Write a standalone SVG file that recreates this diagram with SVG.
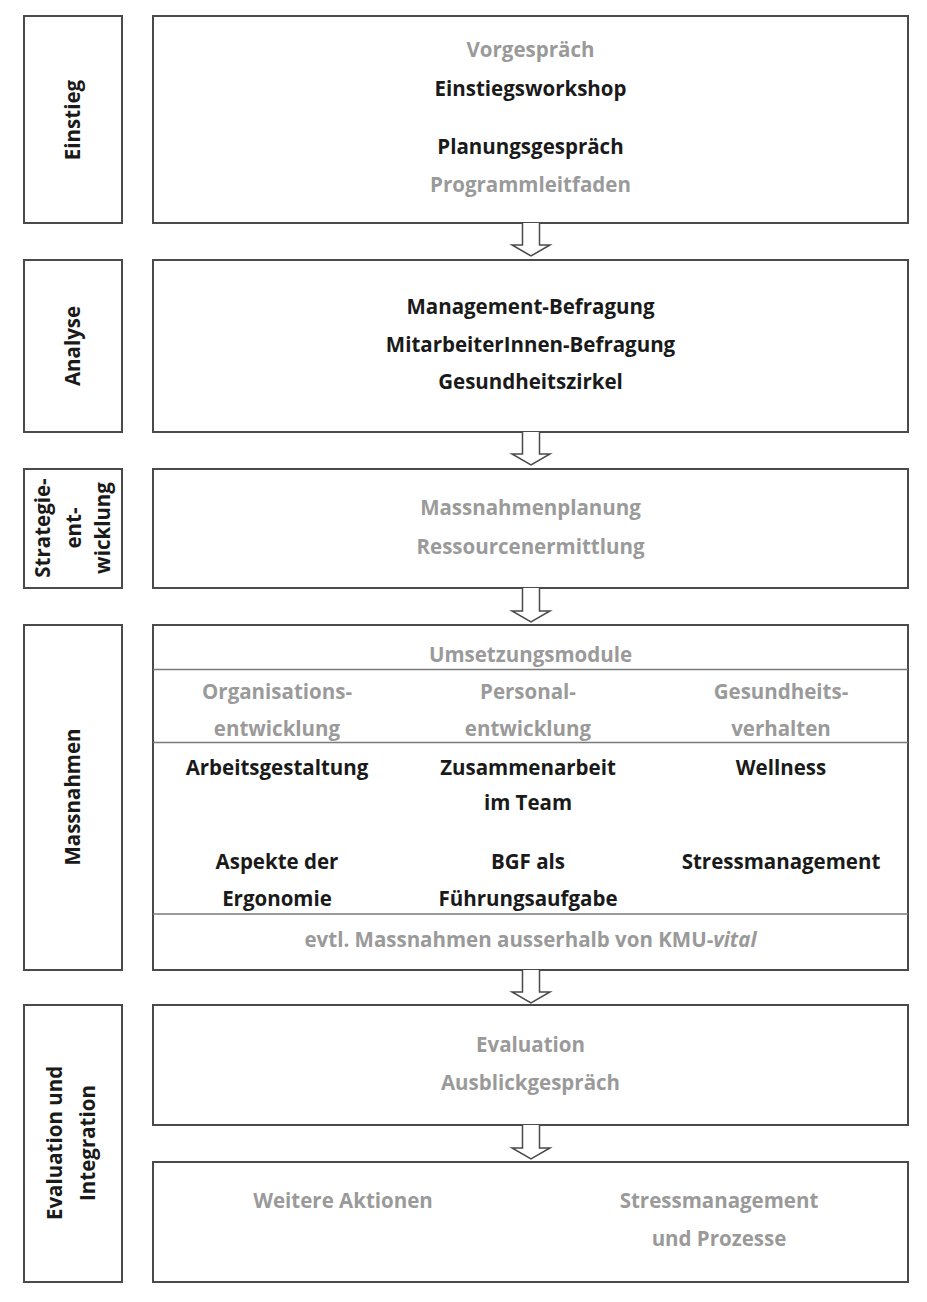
<svg xmlns="http://www.w3.org/2000/svg" width="927" height="1302" viewBox="0 0 927 1302">
<style>
.box{fill:#fff;stroke:#4a4a4a;stroke-width:2}
.div{fill:none;stroke:#7a7a7a;stroke-width:1.5}
text{font-family:"Open Sans","Noto Sans","Liberation Sans",sans-serif;font-weight:700;font-size:20.5px;text-anchor:middle}
.b{fill:#1a1a1a}
.g{fill:#9a9a9a}
.lab{font-size:20.5px;fill:#1a1a1a}
.arr{fill:#fff;stroke:#4a4a4a;stroke-width:1.5;stroke-linejoin:miter}
</style>
<rect width="927" height="1302" fill="#fff"/>

<g id="einstieg-label">
<rect class="box" x="24" y="16" width="98" height="207"/>
<text class="lab" transform="translate(80,120) rotate(-90)">Einstieg</text>
</g>
<g id="einstieg">
<rect class="box" x="153" y="16" width="755" height="207"/>
<text class="g" x="530.5" y="57">Vorgespräch</text>
<text class="b" x="530.5" y="96">Einstiegsworkshop</text>
<text class="b" x="530.5" y="154">Planungsgespräch</text>
<text class="g" x="530.5" y="192">Programmleitfaden</text>
</g>

<g id="analyse-label">
<rect class="box" x="24" y="260" width="98" height="172"/>
<text class="lab" transform="translate(80,346) rotate(-90)">Analyse</text>
</g>
<g id="analyse">
<rect class="box" x="153" y="260" width="755" height="172"/>
<text class="b" x="530.5" y="314">Management-Befragung</text>
<text class="b" x="530.5" y="352">MitarbeiterInnen-Befragung</text>
<text class="b" x="530.5" y="389">Gesundheitszirkel</text>
</g>

<g id="strategie-label">
<rect class="box" x="24" y="469" width="98" height="119"/>
<text class="lab" transform="translate(50,528) rotate(-90)">Strategie-</text>
<text class="lab" transform="translate(81,528) rotate(-90)">ent-</text>
<text class="lab" transform="translate(110,528) rotate(-90)">wicklung</text>
</g>
<g id="strategie">
<rect class="box" x="153" y="469" width="755" height="119"/>
<text class="g" x="530.5" y="515">Massnahmenplanung</text>
<text class="g" x="530.5" y="554">Ressourcenermittlung</text>
</g>

<g id="massnahmen-label">
<rect class="box" x="24" y="625" width="98" height="345"/>
<text class="lab" transform="translate(80,797) rotate(-90)">Massnahmen</text>
</g>
<g id="massnahmen">
<rect class="box" x="153" y="625" width="755" height="345"/>
<line class="div" x1="153" y1="669.5" x2="908" y2="669.5"/>
<line class="div" x1="153" y1="742.5" x2="908" y2="742.5"/>
<line class="div" x1="153" y1="914" x2="908" y2="914"/>
<text class="g" x="530.5" y="662">Umsetzungsmodule</text>
<text class="g" x="277" y="699">Organisations-</text>
<text class="g" x="277" y="736">entwicklung</text>
<text class="g" x="528" y="699">Personal-</text>
<text class="g" x="528" y="736">entwicklung</text>
<text class="g" x="781" y="699">Gesundheits-</text>
<text class="g" x="781" y="736">verhalten</text>
<text class="b" x="277" y="775">Arbeitsgestaltung</text>
<text class="b" x="528" y="775">Zusammenarbeit</text>
<text class="b" x="528" y="810">im Team</text>
<text class="b" x="781" y="775">Wellness</text>
<text class="b" x="277" y="869">Aspekte der</text>
<text class="b" x="277" y="906">Ergonomie</text>
<text class="b" x="528" y="869">BGF als</text>
<text class="b" x="528" y="906">Führungsaufgabe</text>
<text class="b" x="781" y="869">Stressmanagement</text>
<text class="g" x="530.5" y="947">evtl. Massnahmen ausserhalb von KMU-<tspan font-style="italic">vital</tspan></text>
</g>

<g id="evaluation-label">
<rect class="box" x="24" y="1005" width="98" height="277"/>
<text class="lab" transform="translate(62,1143) rotate(-90)">Evaluation und</text>
<text class="lab" transform="translate(95,1143) rotate(-90)">Integration</text>
</g>
<g id="evaluation">
<rect class="box" x="153" y="1005" width="755" height="120"/>
<text class="g" x="530.5" y="1052">Evaluation</text>
<text class="g" x="530.5" y="1090">Ausblickgespräch</text>
</g>
<g id="integration">
<rect class="box" x="153" y="1162" width="755" height="120"/>
<text class="g" x="343" y="1208">Weitere Aktionen</text>
<text class="g" x="719" y="1208">Stressmanagement</text>
<text class="g" x="719" y="1246">und Prozesse</text>
</g>

<g id="connectors">
<path class="arr" d="M522.5 223 V245 H512 L531 256 L550 245 H539.5 V223"/>
<path class="arr" d="M522.5 432 V454 H512 L531 465 L550 454 H539.5 V432"/>
<path class="arr" d="M522.5 588 V611 H512 L531 622 L550 611 H539.5 V588"/>
<path class="arr" d="M522.5 970 V992 H512 L531 1003 L550 992 H539.5 V970"/>
<path class="arr" d="M522.5 1125 V1148 H512 L531 1159 L550 1148 H539.5 V1125"/>
</g>
</svg>
